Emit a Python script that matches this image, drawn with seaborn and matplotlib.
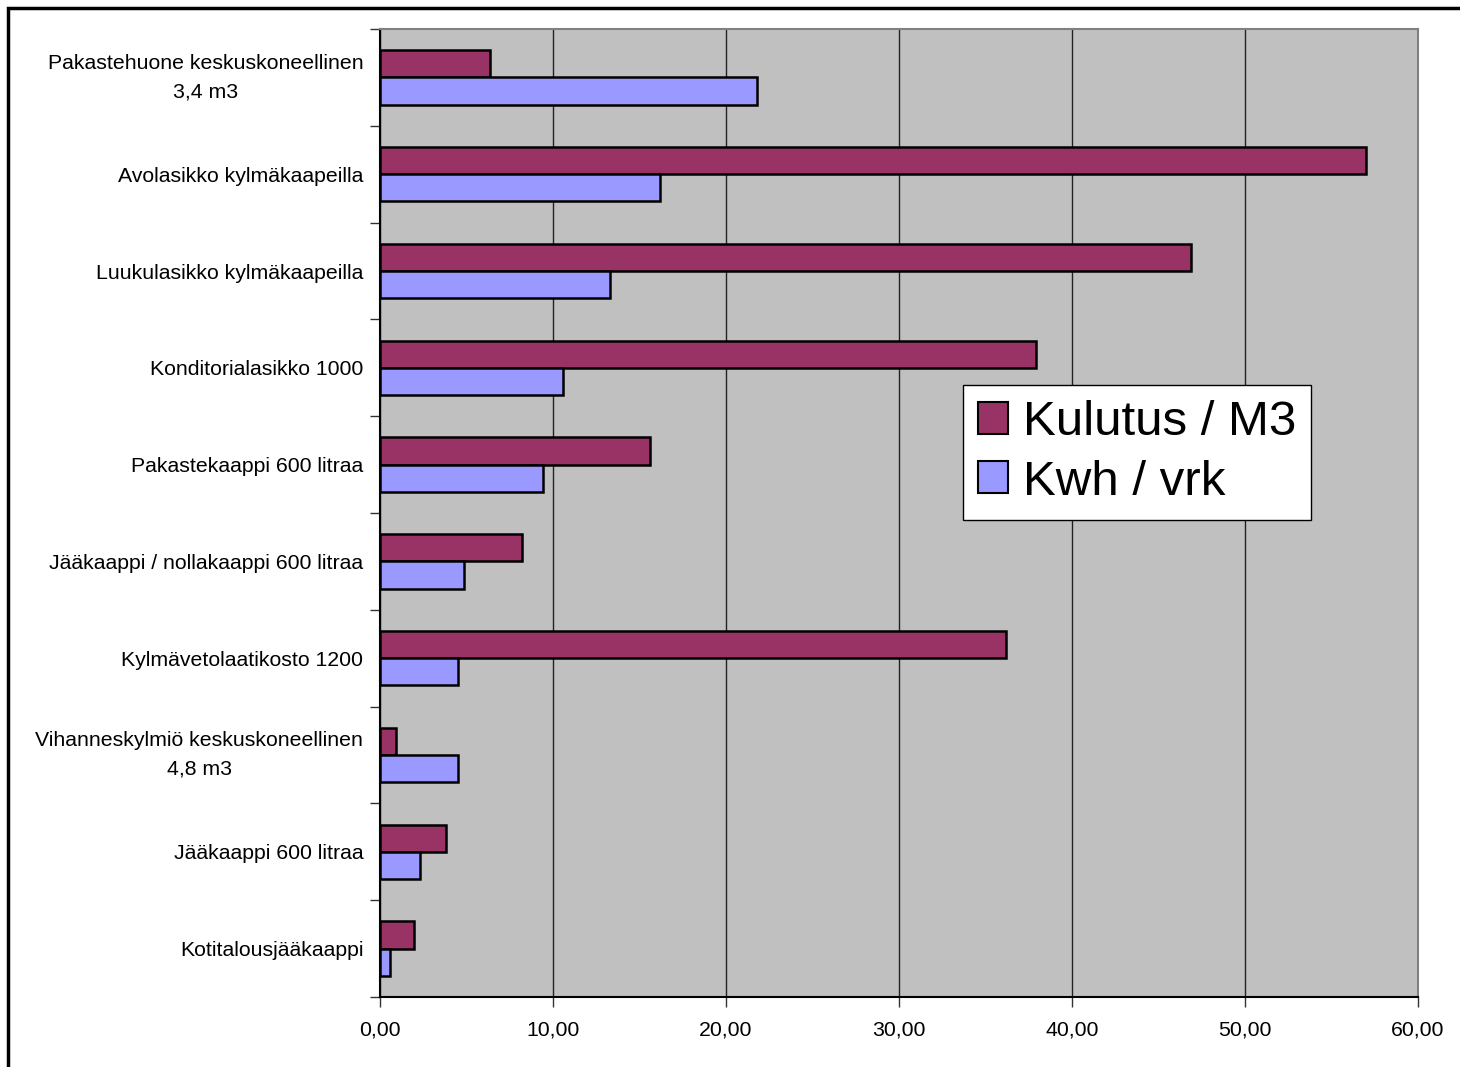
import pandas as pd
import seaborn as sns
import matplotlib.pyplot as plt
from matplotlib.patches import Rectangle, Patch
from matplotlib.ticker import FuncFormatter, FixedLocator

categories = [
    'Pakastehuone keskuskoneellinen\n3,4 m3',
    'Avolasikko kylmäkaapeilla',
    'Luukulasikko kylmäkaapeilla',
    'Konditorialasikko 1000',
    'Pakastekaappi 600 litraa',
    'Jääkaappi / nollakaappi 600 litraa',
    'Kylmävetolaatikosto 1200',
    'Vihanneskylmiö keskuskoneellinen\n4,8 m3',
    'Jääkaappi 600 litraa',
    'Kotitalousjääkaappi',
]
kulutus_m3 = [6.35, 57.0, 46.9, 37.9, 15.6, 8.2, 36.2, 0.93, 3.84, 1.98]
kwh_vrk = [21.8, 16.2, 13.3, 10.6, 9.4, 4.85, 4.5, 4.53, 2.33, 0.58]
series_names = ['Kulutus / M3', 'Kwh / vrk']
series_colors = ['#993366', '#9999FF']

df = pd.DataFrame({
    'category': categories * 2,
    'series': [series_names[0]] * len(categories) + [series_names[1]] * len(categories),
    'value': kulutus_m3 + kwh_vrk,
})

sns.set_style('white')
plt.rcParams['font.family'] = ['Liberation Sans', 'DejaVu Sans']
plt.rcParams['text.color'] = 'black'
plt.rcParams['xtick.color'] = 'black'
plt.rcParams['ytick.color'] = 'black'

fig = plt.figure(figsize=(14.6, 10.67), dpi=100)
ax = fig.add_axes([380 / 1460, 1 - 997 / 1067, 1038 / 1460, 968 / 1067])
ax.set_facecolor('#C0C0C0')

sns.barplot(data=df, y='category', x='value', hue='series', orient='h',
            palette=series_colors, saturation=1, edgecolor='black', linewidth=1.8,
            width=0.56, dodge=True, legend=False, ax=ax, zorder=3)

ax.set_xlim(0, 60)
ax.set_ylim(len(categories) - 0.5, -0.5)
ax.set_xticks(range(0, 61, 10))
ax.xaxis.set_major_formatter(FuncFormatter(lambda v, p: f'{v:.2f}'.replace('.', ',')))
ax.grid(axis='x', color='#222222', linewidth=1.0, zorder=0)
ax.set_axisbelow(True)
ax.set_xlabel('')
ax.set_ylabel('')

# y ticks between categories, labels without ticks
ax.yaxis.set_minor_locator(FixedLocator([i - 0.5 for i in range(len(categories) + 1)]))
ax.tick_params(axis='y', which='major', length=0, pad=12, labelsize=15.3, labelcolor='black')
ax.tick_params(axis='y', which='minor', length=7, width=1, color='#333333', direction='out', left=True)
ax.tick_params(axis='x', length=7, width=1, color='#333333', direction='out', bottom=True,
               pad=10, labelsize=15.3, labelcolor='black')
for lbl in ax.get_yticklabels():
    if '\n' in lbl.get_text():
        lbl.set_multialignment('center')
        lbl.set_linespacing(1.65)
        lbl.set_verticalalignment('center')

for side in ['left', 'bottom']:
    ax.spines[side].set_color('black')
    ax.spines[side].set_linewidth(1.5)
for side in ['top', 'right']:
    ax.spines[side].set_color('#808080')
    ax.spines[side].set_linewidth(1.5)

handles = [Patch(facecolor=c, edgecolor='black', linewidth=1.5) for c in series_colors]
leg = ax.legend(handles, series_names, loc='upper left', bbox_to_anchor=(0.5617, 0.632),
                borderaxespad=0, fontsize=35.5, frameon=True, fancybox=False,
                handlelength=0.62, handleheight=0.62, handletextpad=0.3,
                labelspacing=0.3, borderpad=0.3)
for t in leg.get_texts():
    t.set_color('black')
leg.get_frame().set_edgecolor('black')
leg.get_frame().set_linewidth(1.0)
leg.get_frame().set_facecolor('white')
leg.get_frame().set_alpha(1)

# outer border of the chart area
fig.patches.append(Rectangle((8 / 1460, -0.1), 2, 1 - 8 / 1067 + 0.1, transform=fig.transFigure,
                             fill=False, edgecolor='black', linewidth=2.5))

plt.savefig('out.png', dpi=100)
